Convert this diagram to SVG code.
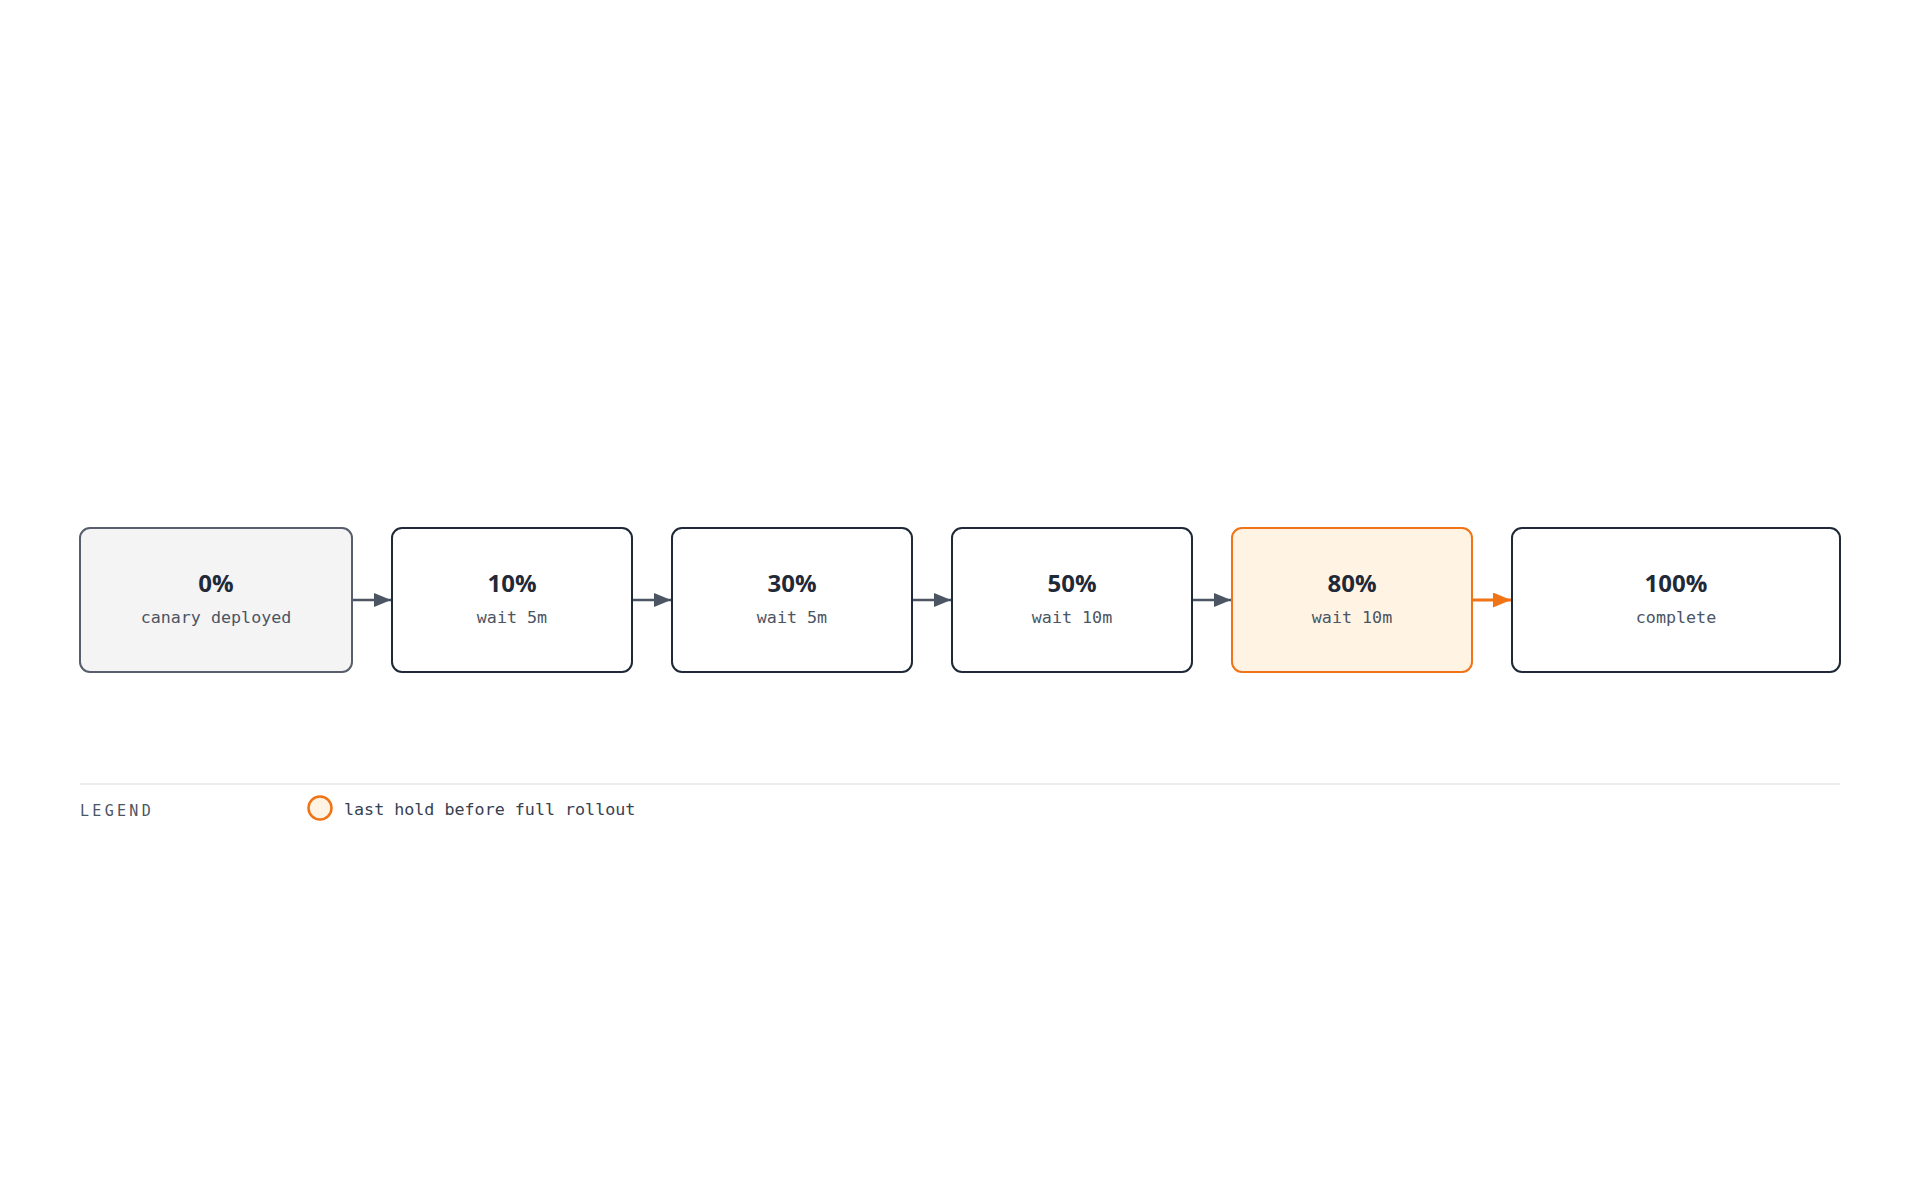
<svg xmlns="http://www.w3.org/2000/svg" width="1920" height="1200" viewBox="0 0 1920 1200">
<style>
.box{fill:#ffffff;stroke:#1f2937;stroke-width:2}
.start{fill:#f4f4f5;stroke:#585e6b}
.hold{fill:#fff4e4;stroke:#f07316}
.t{font-family:"Open Sans","Noto Sans","Liberation Sans",sans-serif;font-weight:700;font-size:24px;fill:#1f2937;text-anchor:middle}
.s{font-family:"DejaVu Sans Mono","Liberation Mono",monospace;font-size:16.7px;fill:#4b5563;text-anchor:middle}
.e{stroke:#4b5563;stroke-width:2.5;fill:none}
.eh{stroke:#f07316;stroke-width:3;fill:none}
.lg{font-family:"DejaVu Sans Mono","Liberation Mono",monospace;font-size:15px;letter-spacing:3.3px;fill:#4b5563}
.li{font-family:"DejaVu Sans Mono","Liberation Mono",monospace;font-size:16.7px;fill:#374151}
</style>
<defs>
<marker id="ah" viewBox="0 0 17 14" refX="17" refY="7" markerWidth="17" markerHeight="14" markerUnits="userSpaceOnUse" orient="auto"><path d="M0,0 L17,7 L0,14 Z" fill="#4b5563"/></marker>
<marker id="aho" viewBox="0 0 18 15" refX="18" refY="7.5" markerWidth="18" markerHeight="15" markerUnits="userSpaceOnUse" orient="auto"><path d="M0,0 L18,7.5 L0,15 Z" fill="#f07316"/></marker>
</defs>
<rect width="1920" height="1200" fill="#ffffff"/>
<g id="connectors">
<line class="e" x1="353" y1="600" x2="391" y2="600" marker-end="url(#ah)"/>
<line class="e" x1="633" y1="600" x2="671" y2="600" marker-end="url(#ah)"/>
<line class="e" x1="913" y1="600" x2="951" y2="600" marker-end="url(#ah)"/>
<line class="e" x1="1193" y1="600" x2="1231" y2="600" marker-end="url(#ah)"/>
<line class="eh" x1="1473" y1="600" x2="1511" y2="600" marker-end="url(#aho)"/>
</g>
<g id="n0"><rect class="box start" x="80" y="528" width="272" height="144" rx="10"/><text class="t" x="216" y="592">0%</text><text class="s" x="216" y="623">canary deployed</text></g>
<g id="n10"><rect class="box" x="392" y="528" width="240" height="144" rx="10"/><text class="t" x="512" y="592">10%</text><text class="s" x="512" y="623">wait 5m</text></g>
<g id="n30"><rect class="box" x="672" y="528" width="240" height="144" rx="10"/><text class="t" x="792" y="592">30%</text><text class="s" x="792" y="623">wait 5m</text></g>
<g id="n50"><rect class="box" x="952" y="528" width="240" height="144" rx="10"/><text class="t" x="1072" y="592">50%</text><text class="s" x="1072" y="623">wait 10m</text></g>
<g id="n80"><rect class="box hold" x="1232" y="528" width="240" height="144" rx="10"/><text class="t" x="1352" y="592">80%</text><text class="s" x="1352" y="623">wait 10m</text></g>
<g id="n100"><rect class="box" x="1512" y="528" width="328" height="144" rx="10"/><text class="t" x="1676" y="592">100%</text><text class="s" x="1676" y="623">complete</text></g>
<g id="legend">
<line x1="80" y1="784" x2="1840" y2="784" stroke="#e5e7eb" stroke-width="1.5"/>
<text class="lg" x="80" y="816">LEGEND</text>
<circle cx="320" cy="808" r="11.5" fill="#fff4e4" stroke="#f07316" stroke-width="2.5"/>
<text class="li" x="344" y="815">last hold before full rollout</text>
</g>
</svg>
